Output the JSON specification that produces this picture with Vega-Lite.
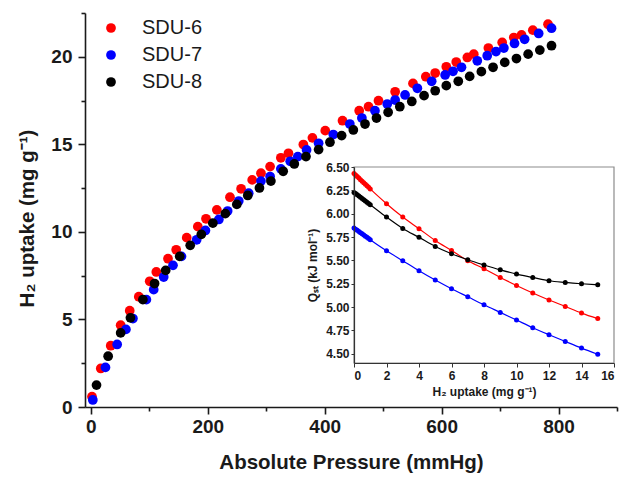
{
  "$schema": "https://vega.github.io/schema/vega-lite/v6.json",
  "width": 532,
  "height": 394,
  "autosize": {"type": "none"},
  "padding": {"left": 85, "top": 13, "right": 7, "bottom": 70},
  "background": "white",
  "config": {"view": {"stroke": null}, "font": "Liberation Sans"},
  "datasets": {
    "main": [
      {"series":"SDU-6","p":2,"u":0.59},{"series":"SDU-6","p":17,"u":2.2},{"series":"SDU-6","p":34,"u":3.5},{"series":"SDU-6","p":51,"u":4.67},{"series":"SDU-6","p":66.5,"u":5.5},{"series":"SDU-6","p":82,"u":6.3},{"series":"SDU-6","p":100.7,"u":7.18},{"series":"SDU-6","p":112,"u":7.71},{"series":"SDU-6","p":132,"u":8.47},{"series":"SDU-6","p":146,"u":8.98},{"series":"SDU-6","p":164,"u":9.67},{"series":"SDU-6","p":183,"u":10.3},{"series":"SDU-6","p":197,"u":10.75},{"series":"SDU-6","p":215.5,"u":11.26},{"series":"SDU-6","p":238,"u":11.98},{"series":"SDU-6","p":257,"u":12.46},{"series":"SDU-6","p":276,"u":12.97},{"series":"SDU-6","p":291,"u":13.35},{"series":"SDU-6","p":306.6,"u":13.73},{"series":"SDU-6","p":325,"u":14.23},{"series":"SDU-6","p":338,"u":14.49},{"series":"SDU-6","p":363.5,"u":14.99},{"series":"SDU-6","p":379,"u":15.37},{"series":"SDU-6","p":401,"u":15.78},{"series":"SDU-6","p":430.5,"u":16.35},{"series":"SDU-6","p":459,"u":16.92},{"series":"SDU-6","p":475,"u":17.15},{"series":"SDU-6","p":492,"u":17.49},{"series":"SDU-6","p":520.5,"u":18.0},{"series":"SDU-6","p":551,"u":18.48},{"series":"SDU-6","p":573,"u":18.86},{"series":"SDU-6","p":589,"u":19.07},{"series":"SDU-6","p":608,"u":19.43},{"series":"SDU-6","p":625,"u":19.7},{"series":"SDU-6","p":644,"u":19.96},{"series":"SDU-6","p":655,"u":20.15},{"series":"SDU-6","p":680,"u":20.5},{"series":"SDU-6","p":703.6,"u":20.82},{"series":"SDU-6","p":723.5,"u":21.1},{"series":"SDU-6","p":736.7,"u":21.25},{"series":"SDU-6","p":756,"u":21.52},{"series":"SDU-6","p":782,"u":21.86},
      {"series":"SDU-7","p":3.4,"u":0.4},{"series":"SDU-7","p":25,"u":2.26},{"series":"SDU-7","p":45,"u":3.57},{"series":"SDU-7","p":60,"u":4.43},{"series":"SDU-7","p":72,"u":5.05},{"series":"SDU-7","p":95,"u":6.13},{"series":"SDU-7","p":107.5,"u":6.7},{"series":"SDU-7","p":124.6,"u":7.42},{"series":"SDU-7","p":140.5,"u":8.09},{"series":"SDU-7","p":155,"u":8.6},{"series":"SDU-7","p":181,"u":9.55},{"series":"SDU-7","p":196,"u":10.08},{"series":"SDU-7","p":219,"u":10.71},{"series":"SDU-7","p":234,"u":11.19},{"series":"SDU-7","p":253,"u":11.76},{"series":"SDU-7","p":270,"u":12.21},{"series":"SDU-7","p":291,"u":12.9},{"series":"SDU-7","p":306.6,"u":13.16},{"series":"SDU-7","p":325,"u":13.6},{"series":"SDU-7","p":341,"u":14.03},{"series":"SDU-7","p":354,"u":14.3},{"series":"SDU-7","p":369,"u":14.68},{"series":"SDU-7","p":389.6,"u":15.06},{"series":"SDU-7","p":414.7,"u":15.56},{"series":"SDU-7","p":443,"u":16.16},{"series":"SDU-7","p":463.6,"u":16.5},{"series":"SDU-7","p":486,"u":16.92},{"series":"SDU-7","p":507,"u":17.3},{"series":"SDU-7","p":520.5,"u":17.53},{"series":"SDU-7","p":537.5,"u":17.82},{"series":"SDU-7","p":558.5,"u":18.2},{"series":"SDU-7","p":583,"u":18.6},{"series":"SDU-7","p":606,"u":18.96},{"series":"SDU-7","p":619.5,"u":19.17},{"series":"SDU-7","p":634,"u":19.4},{"series":"SDU-7","p":661,"u":19.77},{"series":"SDU-7","p":678,"u":20.06},{"series":"SDU-7","p":693,"u":20.3},{"series":"SDU-7","p":706.5,"u":20.5},{"series":"SDU-7","p":724.7,"u":20.76},{"series":"SDU-7","p":742,"u":21.0},{"series":"SDU-7","p":766,"u":21.33},{"series":"SDU-7","p":788,"u":21.63},
      {"series":"SDU-8","p":9.7,"u":1.25},{"series":"SDU-8","p":29.6,"u":2.9},{"series":"SDU-8","p":51,"u":4.23},{"series":"SDU-8","p":67.7,"u":5.09},{"series":"SDU-8","p":89,"u":6.13},{"series":"SDU-8","p":109,"u":7.05},{"series":"SDU-8","p":128,"u":7.8},{"series":"SDU-8","p":152,"u":8.6},{"series":"SDU-8","p":170,"u":9.23},{"series":"SDU-8","p":189,"u":9.86},{"series":"SDU-8","p":208.7,"u":10.5},{"series":"SDU-8","p":230,"u":11.04},{"series":"SDU-8","p":249.7,"u":11.57},{"series":"SDU-8","p":268.4,"u":12.08},{"series":"SDU-8","p":288.4,"u":12.51},{"series":"SDU-8","p":308,"u":12.9},{"series":"SDU-8","p":329,"u":13.46},{"series":"SDU-8","p":348,"u":13.88},{"series":"SDU-8","p":368,"u":14.3},{"series":"SDU-8","p":389.6,"u":14.7},{"series":"SDU-8","p":409,"u":15.12},{"series":"SDU-8","p":429,"u":15.5},{"series":"SDU-8","p":449,"u":15.82},{"series":"SDU-8","p":469,"u":16.16},{"series":"SDU-8","p":488.6,"u":16.5},{"series":"SDU-8","p":508.5,"u":16.83},{"series":"SDU-8","p":528.5,"u":17.15},{"series":"SDU-8","p":549,"u":17.45},{"series":"SDU-8","p":570,"u":17.78},{"series":"SDU-8","p":589,"u":18.06},{"series":"SDU-8","p":608,"u":18.35},{"series":"SDU-8","p":628.5,"u":18.6},{"series":"SDU-8","p":648,"u":18.88},{"series":"SDU-8","p":668,"u":19.15},{"series":"SDU-8","p":688,"u":19.4},{"series":"SDU-8","p":708,"u":19.68},{"series":"SDU-8","p":728,"u":19.9},{"series":"SDU-8","p":748,"u":20.15},{"series":"SDU-8","p":768,"u":20.38},{"series":"SDU-8","p":788,"u":20.63}
    ],
    "inset": [
      {"series":"SDU-6","h2":0,"q":6.43},{"series":"SDU-6","h2":0.1,"q":6.414},{"series":"SDU-6","h2":0.2,"q":6.397},{"series":"SDU-6","h2":0.3,"q":6.381},{"series":"SDU-6","h2":0.4,"q":6.364},{"series":"SDU-6","h2":0.5,"q":6.348},{"series":"SDU-6","h2":0.6,"q":6.331},{"series":"SDU-6","h2":0.7,"q":6.315},{"series":"SDU-6","h2":0.8,"q":6.298},{"series":"SDU-6","h2":0.9,"q":6.282},{"series":"SDU-6","h2":1,"q":6.265},{"series":"SDU-6","h2":2,"q":6.107},{"series":"SDU-6","h2":3,"q":5.964},{"series":"SDU-6","h2":4,"q":5.839},{"series":"SDU-6","h2":5,"q":5.713},{"series":"SDU-6","h2":6,"q":5.606},{"series":"SDU-6","h2":7,"q":5.496},{"series":"SDU-6","h2":8,"q":5.41},{"series":"SDU-6","h2":9,"q":5.317},{"series":"SDU-6","h2":10,"q":5.231},{"series":"SDU-6","h2":11,"q":5.15},{"series":"SDU-6","h2":12,"q":5.075},{"series":"SDU-6","h2":13,"q":5.006},{"series":"SDU-6","h2":14,"q":4.935},{"series":"SDU-6","h2":15,"q":4.876},
      {"series":"SDU-7","h2":0,"q":5.846},{"series":"SDU-7","h2":0.1,"q":5.834},{"series":"SDU-7","h2":0.2,"q":5.821},{"series":"SDU-7","h2":0.3,"q":5.809},{"series":"SDU-7","h2":0.4,"q":5.796},{"series":"SDU-7","h2":0.5,"q":5.784},{"series":"SDU-7","h2":0.6,"q":5.771},{"series":"SDU-7","h2":0.7,"q":5.759},{"series":"SDU-7","h2":0.8,"q":5.746},{"series":"SDU-7","h2":0.9,"q":5.734},{"series":"SDU-7","h2":1,"q":5.721},{"series":"SDU-7","h2":2,"q":5.603},{"series":"SDU-7","h2":3,"q":5.496},{"series":"SDU-7","h2":4,"q":5.389},{"series":"SDU-7","h2":5,"q":5.289},{"series":"SDU-7","h2":6,"q":5.196},{"series":"SDU-7","h2":7,"q":5.11},{"series":"SDU-7","h2":8,"q":5.024},{"series":"SDU-7","h2":9,"q":4.942},{"series":"SDU-7","h2":10,"q":4.86},{"series":"SDU-7","h2":11,"q":4.778},{"series":"SDU-7","h2":12,"q":4.703},{"series":"SDU-7","h2":13,"q":4.631},{"series":"SDU-7","h2":14,"q":4.56},{"series":"SDU-7","h2":15,"q":4.494},
      {"series":"SDU-8","h2":0,"q":6.228},{"series":"SDU-8","h2":0.1,"q":6.215},{"series":"SDU-8","h2":0.2,"q":6.202},{"series":"SDU-8","h2":0.3,"q":6.188},{"series":"SDU-8","h2":0.4,"q":6.175},{"series":"SDU-8","h2":0.5,"q":6.162},{"series":"SDU-8","h2":0.6,"q":6.149},{"series":"SDU-8","h2":0.7,"q":6.136},{"series":"SDU-8","h2":0.8,"q":6.122},{"series":"SDU-8","h2":0.9,"q":6.109},{"series":"SDU-8","h2":1,"q":6.096},{"series":"SDU-8","h2":2,"q":5.964},{"series":"SDU-8","h2":3,"q":5.842},{"series":"SDU-8","h2":4,"q":5.746},{"series":"SDU-8","h2":5,"q":5.649},{"series":"SDU-8","h2":6,"q":5.571},{"series":"SDU-8","h2":7,"q":5.506},{"series":"SDU-8","h2":8,"q":5.45},{"series":"SDU-8","h2":9,"q":5.398},{"series":"SDU-8","h2":10,"q":5.353},{"series":"SDU-8","h2":11,"q":5.317},{"series":"SDU-8","h2":12,"q":5.281},{"series":"SDU-8","h2":13,"q":5.263},{"series":"SDU-8","h2":14,"q":5.249},{"series":"SDU-8","h2":15,"q":5.238}
    ]
  },
  "layer": [
    {
      "data": {"name": "main"},
      "mark": {"type": "point", "filled": true, "shape": "circle", "size": 95, "opacity": 1},
      "encoding": {
        "x": {
          "field": "p", "type": "quantitative",
          "scale": {"domain": [-10, 900], "nice": false, "zero": false},
          "axis": {
            "title": "Absolute Pressure (mmHg)",
            "values": [0, 100, 200, 300, 400, 500, 600, 700, 800, 900],
            "labelExpr": "datum.value % 200 === 0 ? datum.label : ''",
            "tickSize": {"condition": {"test": "datum.value % 200 === 0", "value": 7}, "value": 4},
            "grid": false, "domainColor": "#1a1a1a", "domainWidth": 1.6, "tickColor": "#1a1a1a", "tickWidth": 1.6,
            "labelFont": "Liberation Sans", "labelFontSize": 19, "labelFontWeight": "bold", "labelColor": "#1a1a1a", "labelPadding": 3,
            "titleFont": "Liberation Sans", "titleFontSize": 20.5, "titleFontWeight": "bold", "titleColor": "#1a1a1a", "titlePadding": 16
          }
        },
        "y": {
          "field": "u", "type": "quantitative",
          "scale": {"domain": [0, 22.5], "nice": false, "zero": false},
          "axis": {
            "title": "H₂ uptake (mg g⁻¹)",
            "titleY": 205,
            "values": [0, 2.5, 5, 7.5, 10, 12.5, 15, 17.5, 20, 22.5],
            "labelExpr": "datum.value % 5 === 0 ? datum.label : ''",
            "tickSize": {"condition": {"test": "datum.value % 5 === 0", "value": 7}, "value": 4},
            "grid": false, "domainColor": "#1a1a1a", "domainWidth": 1.6, "tickColor": "#1a1a1a", "tickWidth": 1.6,
            "labelFont": "Liberation Sans", "labelFontSize": 19, "labelFontWeight": "bold", "labelColor": "#1a1a1a", "labelPadding": 6,
            "titleFont": "Liberation Sans", "titleFontSize": 20.5, "titleFontWeight": "bold", "titleColor": "#1a1a1a", "titlePadding": 13
          }
        },
        "color": {
          "field": "series", "type": "nominal",
          "scale": {"domain": ["SDU-6", "SDU-7", "SDU-8"], "range": ["#ff0000", "#0000ff", "#000000"]},
          "legend": {
            "orient": "none", "legendX": 16, "legendY": 5, "title": null, "padding": 0,
            "symbolType": "circle", "symbolSize": 95, "symbolStrokeWidth": 0,
            "labelFont": "Liberation Sans", "labelFontSize": 20, "labelColor": "#1a1a1a", "labelOffset": 21, "rowPadding": 7
          }
        }
      }
    },
    {
      "layer": [
        {
          "data": {"values": [{}]},
          "mark": {"type": "rect", "fill": "white", "stroke": "#8c8c8c", "strokeWidth": 1.2},
          "encoding": {
            "x": {"datum": 0, "type": "quantitative", "scale": {"domain": [0, 16], "range": [269, 529], "nice": false, "zero": false}},
            "x2": {"datum": 16},
            "y": {"datum": 4.4, "type": "quantitative", "scale": {"domain": [4.4, 6.5], "range": [350, 154], "nice": false, "zero": false}},
            "y2": {"datum": 6.5}
          }
        },
        {
          "data": {"name": "inset"},
          "mark": {"type": "line", "strokeWidth": 1.2, "interpolate": "monotone"},
          "encoding": {
            "x": {
              "field": "h2", "type": "quantitative",
              "scale": {"domain": [0, 16], "range": [269, 529], "nice": false, "zero": false},
              "axis": {
                "orient": "bottom", "offset": -44, "zindex": 1,
                "title": "H₂ uptake (mg g⁻¹)",
                "values": [0, 1, 2, 3, 4, 5, 6, 7, 8, 9, 10, 11, 12, 13, 14, 15, 16],
                "labelExpr": "datum.value % 2 === 0 ? datum.label : ''",
                "tickSize": {"condition": {"test": "datum.value % 2 === 0", "value": 4}, "value": 2.5},
                "grid": false, "domainColor": "#333333", "domainWidth": 1.2, "tickColor": "#333333", "tickWidth": 1,
                "labelFont": "Liberation Sans", "labelFontSize": 12, "labelFontWeight": "bold", "labelColor": "#1a1a1a", "labelPadding": 3,
                "titleFont": "Liberation Sans", "titleFontSize": 12, "titleFontWeight": "bold", "titleColor": "#1a1a1a", "titlePadding": 5
              }
            },
            "y": {
              "field": "q", "type": "quantitative",
              "scale": {"domain": [4.4, 6.5], "range": [350, 154], "nice": false, "zero": false},
              "axis": {
                "orient": "left", "offset": -269, "zindex": 1,
                "title": "Qₛₜ (kJ mol⁻¹)",
                "values": [4.5, 4.625, 4.75, 4.875, 5, 5.125, 5.25, 5.375, 5.5, 5.625, 5.75, 5.875, 6, 6.125, 6.25, 6.375, 6.5],
                "labelExpr": "(datum.value * 4) % 1 === 0 ? format(datum.value, '.2f') : ''",
                "tickSize": {"condition": {"test": "(datum.value * 4) % 1 === 0", "value": 3}, "value": 2},
                "grid": false, "domainColor": "#333333", "domainWidth": 1.2, "tickColor": "#333333", "tickWidth": 1,
                "labelFont": "Liberation Sans", "labelFontSize": 12, "labelFontWeight": "bold", "labelColor": "#1a1a1a", "labelPadding": 2,
                "titleFont": "Liberation Sans", "titleFontSize": 12, "titleFontWeight": "bold", "titleColor": "#1a1a1a", "titlePadding": 6
              }
            },
            "color": {"field": "series", "type": "nominal", "legend": null}
          }
        },
        {
          "data": {"name": "inset"},
          "mark": {"type": "point", "filled": true, "shape": "circle", "size": 25, "opacity": 1},
          "encoding": {
            "x": {"field": "h2", "type": "quantitative"},
            "y": {"field": "q", "type": "quantitative"},
            "color": {"field": "series", "type": "nominal", "legend": null}
          }
        }
      ]
    }
  ],
  "resolve": {"scale": {"x": "independent", "y": "independent"}}
}
